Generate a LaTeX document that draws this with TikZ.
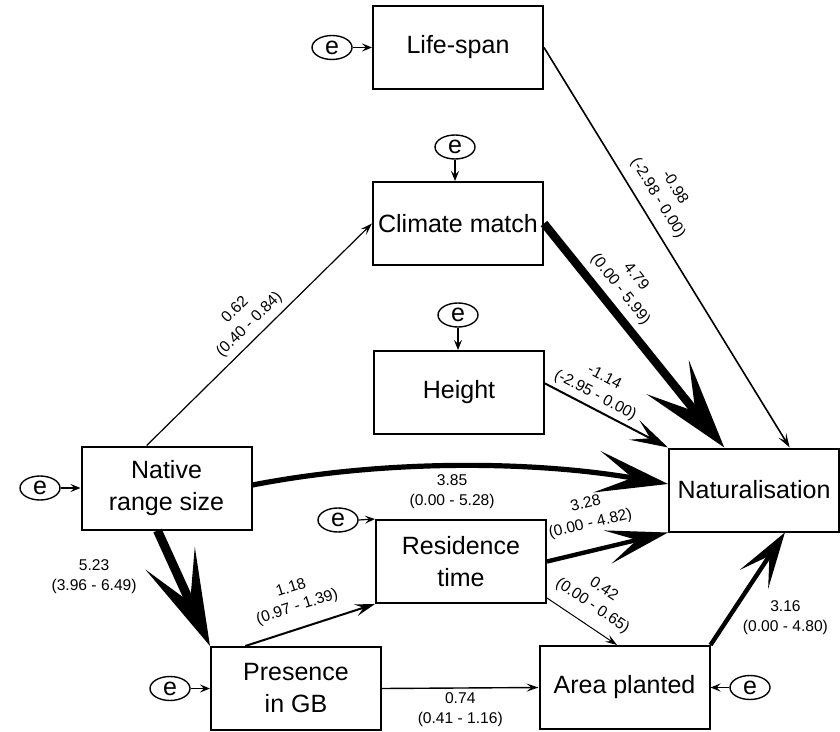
\documentclass[tikz,border=0pt]{standalone}
\usepackage{fontspec}
\setmainfont{Liberation Sans}
\usetikzlibrary{arrows.meta}
\usetikzlibrary{shapes.geometric}

\tikzset{
    var/.style={draw, line width=1pt, minimum width=85pt, minimum height=41.5pt,
        inner sep=0pt, align=center, font=\fontsize{12.5}{16}\selectfont},
    err/.style={draw, ellipse, line width=0.7pt, minimum width=20pt, minimum height=12pt,
        inner sep=0pt, font=\fontsize{12.5}{16}\selectfont},
    errarr/.style={line width=0.6pt, -{Stealth[length=5pt, width=4pt, inset=2pt]}},
    coef/.style={font=\fontsize{7.8}{10}\selectfont, align=center, inner sep=1pt},
    pth/.style n args={4}{line width=#1, -{Stealth[length=#2, width=#3, inset=#4]}}
}

\begin{document}
\begin{tikzpicture}[x=0.5pt, y=-0.5pt]
    \useasboundingbox (0,0) rectangle (840,732);

    % Variables
    \node[var] (life) at (458,47.5) {Life-span};
    \node[var] (clm) at (458,223.5) {Climate match};
    \node[var] (hgt) at (459,392.5) {Height};
    \node[var] (nrs) at (166.5,488) {Native\\range size};
    \node[var] (nat) at (754,490) {Naturalisation};
    \node[var] (res) at (461,561.5) {Residence\\time};
    \node[var] (pres) at (296,688.5) {Presence\\in GB};
    \node[var] (area) at (624.5,687.5) {Area planted};

    % Error terms
    \node[err] (eL) at (332,47.5) {e};
    \node[err] (eC) at (455,147) {e};
    \node[err] (eH) at (458,315) {e};
    \node[err] (eN) at (40,488) {e};
    \node[err] (eR) at (338,520) {e};
    \node[err] (eP) at (170,688.5) {e};
    \node[err] (eA) at (750,687.5) {e};

    \draw[errarr] (eL) -- (life);
    \draw[errarr] (eC.south) -- (eC.south |- clm.north);
    \draw[errarr] (eH.south) -- (eH.south |- hgt.north);
    \draw[errarr] (eN) -- (nrs);
    \draw[errarr] (eR.east) -- (res.north west);
    \draw[errarr] (eP) -- (pres);
    \draw[errarr] (eA) -- (area);

    % Paths to naturalisation
    \draw[pth={0.8pt}{7pt}{4.5pt}{3pt}] (life.east) -- (nat.50)
        node[coef, sloped, above=4pt, pos=0.4] {-0.98\\(-2.98 - 0.00)};
    \draw[pth={4.2pt}{45pt}{27pt}{22pt}] (clm.east) -- (nat.125)
        node[coef, sloped, above=2.3pt, pos=0.345] {4.79\\(0.00 - 5.99)};
    \draw[pth={1pt}{19pt}{11pt}{9pt}] (hgt.6) -- (nat.north west)
        node[coef, sloped, above=1.2pt, pos=0.36] {-1.14\\(-2.95 - 0.00)};
    \draw[pth={2.6pt}{36pt}{21pt}{18pt}] (nrs.2) .. controls (381,460) and (529,460) .. (nat.176)
        node[coef, below=2pt, pos=0.49] {3.85\\(0.00 - 5.28)};
    \draw[pth={2.2pt}{31pt}{17pt}{15pt}] (res.east) -- (nat.south west)
        node[coef, sloped, above=7.5pt, pos=0.41] {3.28\\(0.00 - 4.82)};
    \draw[pth={2.2pt}{28pt}{17pt}{14pt}] (area.north east) -- (nat.-54)
        node[coef, right=5.2pt, pos=0.24] {3.16\\(0.00 - 4.80)};

    % Other paths
    \draw[pth={0.6pt}{6pt}{4pt}{2.5pt}] (nrs.115) -- (clm.west)
        node[coef, sloped, above=2.1pt, pos=0.5] {0.62\\(0.40 - 0.84)};
    \draw[pth={4.5pt}{48pt}{27pt}{24pt}] (nrs.-102) -- (pres.north west)
        node[coef, left=17.7pt, pos=0.4] {5.23\\(3.96 - 6.49)};
    \draw[pth={1pt}{10pt}{6pt}{4pt}] (pres.140) -- (res.south west)
        node[coef, sloped, above=5.3pt, pos=0.45] {1.18\\(0.97 - 1.39)};
    \draw[pth={0.5pt}{6pt}{4pt}{2.5pt}] (res.-23) -- (area.100)
        node[coef, sloped, above=4.5pt, pos=0.5] {0.42\\(0.00 - 0.65)};
    \draw[pth={0.7pt}{6pt}{4pt}{2.5pt}] (pres.east) -- (area.west)
        node[coef, below=1.2pt, pos=0.5] {0.74\\(0.41 - 1.16)};
\end{tikzpicture}
\end{document}
